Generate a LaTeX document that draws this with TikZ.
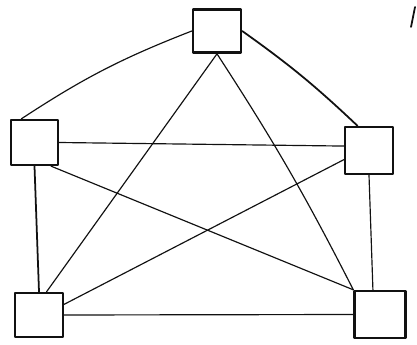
\documentclass[tikz,border=0pt]{standalone}
\usepackage{tikz}
\usetikzlibrary{positioning, calc}
\definecolor{inkblack}{HTML}{111111}

\begin{document}
\begin{tikzpicture}[x=0.3mm, y=-0.3mm, line cap=round, line join=round,
    box/.style={draw=inkblack, line width=2pt, minimum width=14.4mm, minimum height=13mm, inner sep=0pt},
    link/.style={draw=inkblack, line width=1pt},
    heavylink/.style={draw=inkblack, line width=1.5pt}]
      \useasboundingbox (0,0) rectangle (417,345);

      % Cajas
      \node[box] (top) at (217,31) {};
      \node[box, minimum width=14.1mm, minimum height=13.5mm] (lf) at (34.5,142.5) {};
      \node[box, minimum height=14.1mm] (rt) at (369,150.5) {};
      \node[box, minimum height=13.2mm] (bl) at (39,315) {};
      \node[box, minimum width=15.3mm, minimum height=14.1mm] (br) at (380,314.5) {};

      % Conexiones exteriores
      \draw[link] (top.west) to[bend right=6] (lf.119);
      \draw[heavylink] (top.east) to[bend left=4] (rt.115);
      \draw[heavylink] (lf.south) -- (bl.north);
      \draw[link] (rt.south) -- (br.106);
      \draw[link] (bl.east) -- (br.west);

      % Conexiones interiores
      \draw[link] (top.south) -- (bl.72);
      \draw[link] (top.south) to[bend left=3] (br.north west);
      \draw[link] (lf.east) -- (rt.170);
      \draw[link] (lf.-55) -- (br.north west);
      \draw[link] (rt.200) -- (bl.23);

      % Trazo suelto
      \draw[heavylink] (415,7) -- (411,27);
    \end{tikzpicture}
\end{document}
